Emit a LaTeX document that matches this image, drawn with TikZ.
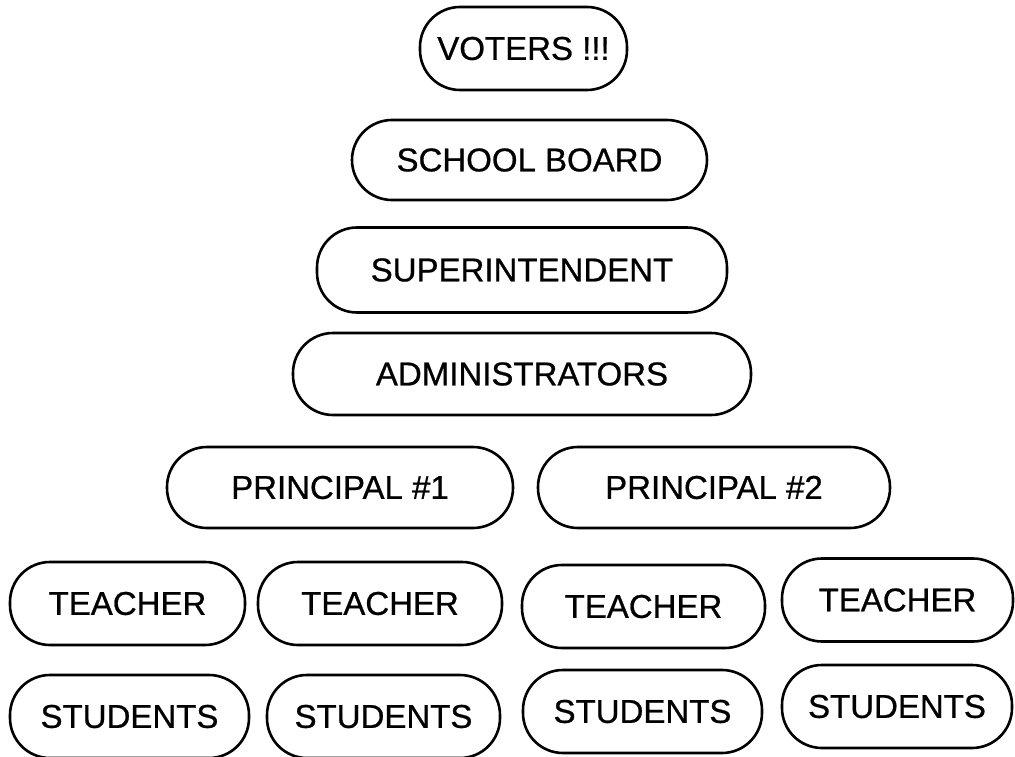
\documentclass[tikz,border=0pt]{standalone}
\usepackage{fontspec}
\newfontfamily\boxfont{Liberation Sans}[UprightFeatures={FakeBold=0.7}]
\begin{document}
\begin{tikzpicture}[x=1pt,y=-1pt,
  box/.style={draw=black, line width=2.6pt, rounded corners=40pt, inner sep=0pt,
    font=\boxfont\fontsize{33}{40}\selectfont, text=black}]
\useasboundingbox (0,0) rectangle (1015,757);
\node[box, minimum width=207pt, minimum height=83pt] (voters) at (523.5,48.5) {VOTERS !!!};
\node[box, minimum width=355pt, minimum height=80pt] (board) at (529.5,160) {SCHOOL BOARD};
\node[box, minimum width=410pt, minimum height=85pt] (super) at (522,270) {SUPERINTENDENT};
\node[box, minimum width=458pt, minimum height=82pt] (admin) at (522,374) {ADMINISTRATORS};
\node[box, minimum width=346pt, minimum height=81pt] (p1) at (340,487.5) {PRINCIPAL \#1};
\node[box, minimum width=352pt, minimum height=81pt] (p2) at (714,487.5) {PRINCIPAL \#2};
\node[box, minimum width=235pt, minimum height=83pt] (t1) at (127.5,603.5) {TEACHER};
\node[box, minimum width=244pt, minimum height=83pt] (t2) at (380,603.5) {TEACHER};
\node[box, minimum width=243pt, minimum height=83pt] (t3) at (643.5,606.5) {TEACHER};
\node[box, minimum width=231pt, minimum height=83pt] (t4) at (897.5,600) {TEACHER};
\node[box, minimum width=239pt, minimum height=83pt] (s1) at (129.5,716.5) {STUDENTS};
\node[box, minimum width=233pt, minimum height=83pt] (s2) at (383.5,716.5) {STUDENTS};
\node[box, minimum width=239pt, minimum height=83pt] (s3) at (642.5,711.5) {STUDENTS};
\node[box, minimum width=230pt, minimum height=83pt] (s4) at (897,706.5) {STUDENTS};
\end{tikzpicture}
\end{document}
